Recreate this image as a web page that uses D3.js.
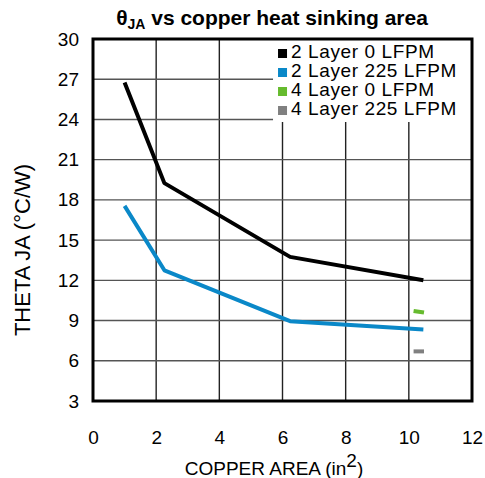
<!DOCTYPE html>
<html>
<head>
<meta charset="utf-8">
<script src="https://cdn.jsdelivr.net/npm/d3@7"></script>
<style>
  body { margin: 0; background: #fff; }
  text { font-family: "Liberation Sans", Arial, sans-serif; fill: #000; }
</style>
</head>
<body>
<div id="chart"></div>
<script>
// Series data: [copper area (in^2), theta JA (C/W)]
var layer2Still = [[1.0, 26.75], [2.26, 19.25], [6.24, 13.75], [10.46, 12.0]];
var layer2Air = [[1.0, 17.55], [2.26, 12.75], [6.24, 8.95], [10.46, 8.33]];
var layer4Still = [[10.15, 9.72], [10.48, 9.6]];
var layer4Air = [[10.15, 6.7], [10.48, 6.7]];

var seriesNames = ["2 Layer 0 LFPM", "2 Layer 225 LFPM", "4 Layer 0 LFPM", "4 Layer 225 LFPM"];
var seriesColors = ["#000000", "#0a88c8", "#66bb2e", "#808080"];

var xTicks = [0, 2, 4, 6, 8, 10, 12];
var yTicks = [3, 6, 9, 12, 15, 18, 21, 24, 27, 30];

var width = 485, height = 478;
var margin = {top: 39, right: 13, bottom: 77, left: 93};
var plotW = width - margin.left - margin.right;
var plotH = height - margin.top - margin.bottom;

var x = d3.scaleLinear().domain([0, 12]).range([0, plotW]);
var y = d3.scaleLinear().domain([3, 30]).range([plotH, 0]);

var svg = d3.select("#chart").append("svg")
  .attr("width", width)
  .attr("height", height);

// Title with subscript
var title = svg.append("text")
  .attr("x", 272)
  .attr("y", 25)
  .attr("text-anchor", "middle")
  .style("font-weight", "bold")
  .style("font-size", "21px");
title.append("tspan").text("\u03b8");
title.append("tspan").attr("dy", 4).style("font-size", "14px").text("JA");
title.append("tspan").attr("dy", -4).text(" vs copper heat sinking area");

var g = svg.append("g")
  .attr("transform", "translate(" + margin.left + "," + margin.top + ")");

// Grid
g.append("g").selectAll("line")
  .data(xTicks.slice(1, -1))
  .enter().append("line")
  .attr("x1", function(d) { return x(d); })
  .attr("x2", function(d) { return x(d); })
  .attr("y1", 0)
  .attr("y2", plotH)
  .attr("stroke", "#222")
  .attr("stroke-width", 1.4);

g.append("g").selectAll("line")
  .data(yTicks.slice(1, -1))
  .enter().append("line")
  .attr("x1", 0)
  .attr("x2", plotW)
  .attr("y1", function(d) { return y(d); })
  .attr("y2", function(d) { return y(d); })
  .attr("stroke", "#555")
  .attr("stroke-width", 1.4);

// Axes: labels only, the frame is drawn separately
var xAxis = g.append("g")
  .attr("transform", "translate(0," + plotH + ")")
  .call(d3.axisBottom(x).tickValues(xTicks).tickSize(0).tickPadding(30));
var yAxis = g.append("g")
  .call(d3.axisLeft(y).tickValues(yTicks).tickSize(0).tickPadding(14));

[xAxis, yAxis].forEach(function(ax) {
  ax.select(".domain").remove();
  ax.selectAll("text")
    .style("font-family", "'Liberation Sans', Arial, sans-serif")
    .style("font-size", "19px")
    .attr("fill", "#000");
});

// Lines
var line = d3.line()
  .x(function(d) { return x(d[0]); })
  .y(function(d) { return y(d[1]); });

var allSeries = [layer2Still, layer2Air, layer4Still, layer4Air];

g.selectAll(".series")
  .data(allSeries)
  .enter().append("path")
  .attr("class", "series")
  .attr("d", line)
  .attr("fill", "none")
  .attr("stroke", function(d, i) { return seriesColors[i]; })
  .attr("stroke-width", 4)
  .attr("stroke-linejoin", "round");

// Legend
var legend = g.append("g")
  .attr("transform", "translate(" + (x(5.7)) + ",0)");

legend.append("rect")
  .attr("x", 0)
  .attr("y", 0)
  .attr("width", plotW - x(5.7))
  .attr("height", 83)
  .attr("fill", "#fff");

var item = legend.selectAll(".item")
  .data(seriesNames)
  .enter().append("g")
  .attr("class", "item")
  .attr("transform", function(d, i) { return "translate(0," + (i * 19) + ")"; });

item.append("rect")
  .attr("x", 5)
  .attr("y", 10)
  .attr("width", 9)
  .attr("height", 9)
  .attr("fill", function(d, i) { return seriesColors[i]; });

item.append("text")
  .attr("x", 18)
  .attr("y", 19)
  .style("font-size", "19px")
  .style("letter-spacing", "0.6px")
  .text(function(d) { return d; });

// Frame
g.append("rect")
  .attr("width", plotW)
  .attr("height", plotH)
  .attr("fill", "none")
  .attr("stroke", "#000")
  .attr("stroke-width", 3);

// Axis titles
var xLabel = svg.append("text")
  .attr("x", 274)
  .attr("y", 475)
  .attr("text-anchor", "middle")
  .style("font-size", "19px");
xLabel.append("tspan").text("COPPER AREA (in");
xLabel.append("tspan").attr("dy", -8).text("2");
xLabel.append("tspan").attr("dy", 8).text(")");

svg.append("text")
  .attr("transform", "translate(30,250) rotate(-90)")
  .attr("text-anchor", "middle")
  .style("font-size", "22px")
  .text("THETA JA (\u00b0C/W)");
</script>
</body>
</html>
